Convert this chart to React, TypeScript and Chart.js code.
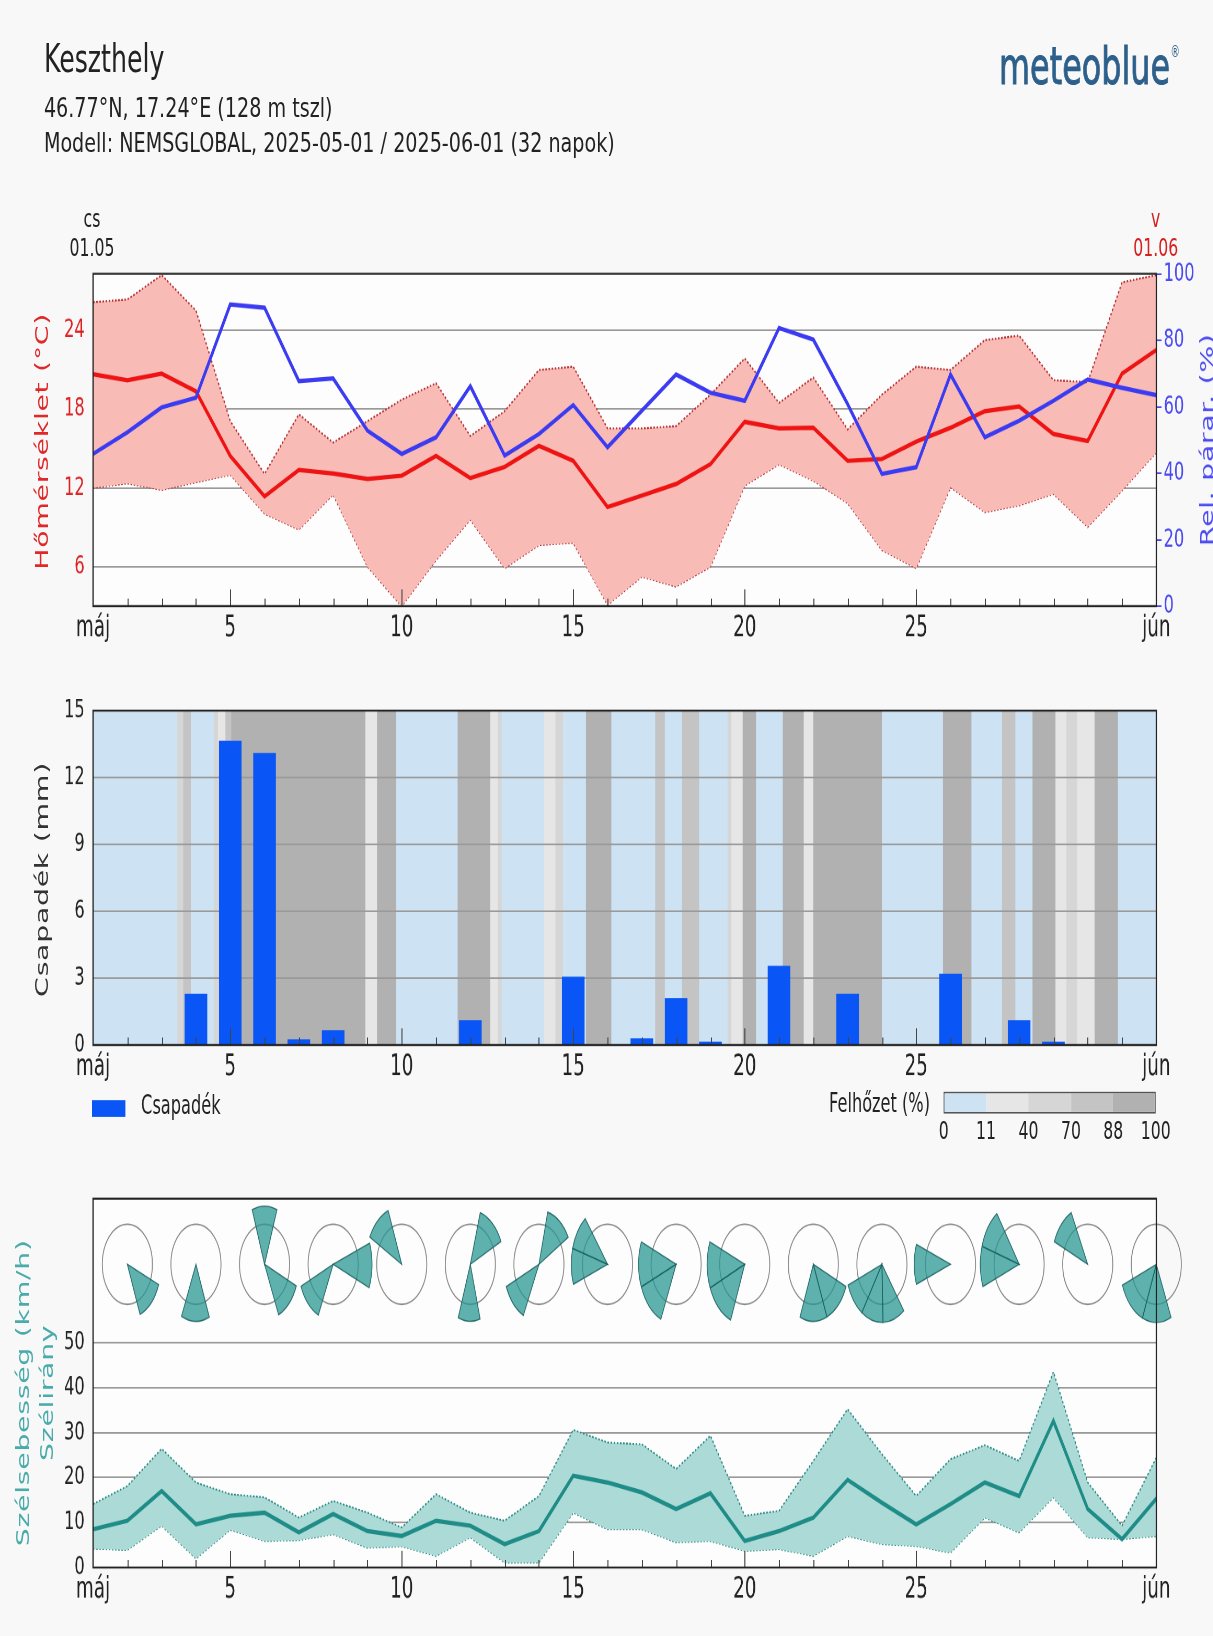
import React, { useEffect, useRef } from 'react';
import { Chart, registerables } from 'chart.js';

Chart.register(...registerables);

const K = 1.045; // uniform scale of the layout
const S = 1.6; // extra vertical stretch of the whole figure
const PAGE_W = 1213;
const PAGE_H = 1636;
const W = PAGE_W / K; // local layout width
const PLOT_L = 89;
const PLOT_R = 1106;
const FONT = "'DejaVu Sans', 'Noto Sans', sans-serif";

// ---------------- data ----------------
const dayIdx = [0, 1, 2, 3, 4, 5, 6, 7, 8, 9, 10, 11, 12, 13, 14, 15, 16, 17, 18, 19, 20, 21, 22, 23, 24, 25, 26, 27, 28, 29, 30, 31];
const xTickPos = [0, 4, 9, 14, 19, 24, 31];
const xTickLabels = ['máj', '5', '10', '15', '20', '25', 'jún'];

const tempMean = [20.65, 20.2, 20.7, 19.35, 14.44, 11.35, 13.36, 13.1, 12.68, 12.93, 14.44, 12.75, 13.6, 15.2, 14.06, 10.54, 11.42, 12.3, 13.8, 17.03, 16.53, 16.58, 14.06, 14.2, 15.52, 16.58, 17.84, 18.2, 16.1, 15.57, 20.7, 22.5];
const tempMax = [26.14, 26.34, 28.2, 25.5, 17.08, 13.06, 17.6, 15.45, 17.08, 18.72, 19.97, 15.95, 17.84, 20.98, 21.23, 16.53, 16.53, 16.7, 19.1, 21.86, 18.47, 20.4, 16.45, 19.1, 21.23, 20.98, 23.25, 23.6, 20.2, 20.05, 27.65, 28.2];
const tempMin = [12.0, 12.35, 11.85, 12.43, 13.0, 10.04, 8.83, 11.5, 6.0, 3.0, 6.5, 9.58, 5.89, 7.65, 7.82, 3.1, 5.24, 4.49, 6.0, 12.18, 13.8, 12.55, 10.84, 7.27, 5.89, 12.05, 10.16, 10.67, 11.55, 9.03, 11.8, 14.7];
const humidity = [45.8, 52.3, 59.8, 62.7, 90.8, 89.8, 67.7, 68.5, 52.8, 45.8, 50.8, 66.2, 45.3, 51.8, 60.5, 47.8, 58.8, 69.7, 64.2, 61.8, 83.7, 80.2, 60.8, 39.8, 41.8, 69.7, 50.8, 55.8, 61.8, 68.2, 65.7, 63.5];
const tempTicks = [6, 12, 18, 24];
const humTicks = [0, 20, 40, 60, 80, 100];

const precip = [0, 0, 0, 2.3, 13.65, 13.1, 0.25, 0.67, 0, 0, 0, 1.12, 0, 0, 3.07, 0, 0.3, 2.1, 0.15, 0, 3.55, 0, 2.3, 0, 0, 3.2, 0, 1.12, 0.15, 0, 0, 0];
const precipTicks = [0, 3, 6, 9, 12, 15];

const cloudStart = [0, 2.46, 2.63, 2.85, 3.52, 3.64, 3.86, 4.03, 7.94, 8.28, 8.84, 10.63, 11.58, 11.8, 11.91, 13.14, 13.48, 13.7, 14.37, 15.11, 16.39, 16.67, 17.17, 17.67, 18.5, 18.61, 18.94, 19.33, 20.11, 20.72, 21.0, 23.0, 24.78, 25.61, 26.5, 26.89, 27.39, 28.06, 28.38, 28.69, 29.2, 29.88];
const cloudCover = [5, 60, 80, 5, 60, 25, 80, 95, 20, 95, 5, 95, 25, 60, 5, 25, 60, 5, 95, 5, 80, 5, 80, 5, 60, 25, 90, 10, 95, 30, 95, 5, 95, 5, 80, 5, 95, 25, 60, 20, 95, 5];
const cloudEnd = 31;
const cloudLevels = [11, 40, 70, 88, 100];
const cloudColors = ['#cde2f3', '#e6e6e6', '#d6d6d6', '#c4c4c4', '#b1b1b1'];
const cloudLegendTicks = ['0', '11', '40', '70', '88', '100'];

const windMean = [8.5, 10.4, 17.0, 9.6, 11.5, 12.2, 7.8, 11.9, 8.1, 7.0, 10.4, 9.3, 5.2, 8.1, 20.4, 18.9, 16.7, 13.0, 16.5, 5.9, 8.1, 11.1, 19.5, 14.4, 9.6, 14.1, 18.9, 15.9, 32.6, 13.0, 6.3, 15.3];
const windMax = [14.1, 18.1, 26.4, 18.9, 16.3, 15.6, 11.1, 14.8, 12.2, 8.9, 16.3, 12.2, 10.4, 15.9, 30.6, 27.8, 27.4, 21.9, 29.3, 11.5, 12.6, 23.7, 35.2, 25.2, 15.9, 24.1, 27.2, 23.7, 43.5, 18.9, 9.3, 24.4];
const windMin = [4.2, 3.9, 9.3, 2.0, 8.4, 5.9, 6.1, 7.4, 4.4, 4.7, 2.6, 6.7, 1.1, 1.1, 12.2, 8.5, 8.5, 5.6, 5.9, 3.7, 4.1, 2.6, 7.0, 5.2, 4.8, 3.3, 11.1, 7.8, 15.6, 6.7, 6.3, 7.0];
const windTicks = [0, 10, 20, 30, 40, 50];

// wind roses: day index of each rose, and its wedges [fromDeg, toDeg, relative length]
const roseIdx = [1, 3, 5, 7, 9, 11, 13, 15, 17, 19, 21, 23, 25, 27, 29, 31];
const roseWedges = [
  [[112, 158, 1.35]],
  [[158, 204, 1.42]],
  [[340, 20, 1.45], [113, 156, 1.38]],
  [[205, 247, 1.4], [70, 112, 1.55]],
  [[298, 338, 1.45]],
  [[17, 65, 1.35], [164, 200, 1.42]],
  [[15, 60, 1.35], [206, 247, 1.42]],
  [[250, 322, 1.45]],
  [[204, 292, 1.5]],
  [[202, 292, 1.5]],
  [[113, 202, 1.42]],
  [[143, 249, 1.45]],
  [[250, 290, 1.45]],
  [[249, 325, 1.55]],
  [[293, 333, 1.45]],
  [[156, 249, 1.45]],
];
const roseCenter = 67.4;
const roseRadius = 0.73;

// ---------------- helpers ----------------
const pts = (arr: number[]) => dayIdx.map((d, i) => ({ x: d, y: arr[i] }));
const coverColor = (c: number) => {
  for (let k = 0; k < cloudLevels.length; k++) if (c <= cloudLevels[k]) return cloudColors[k];
  return cloudColors[cloudColors.length - 1];
};

const xAxis = (h: number) => ({
  type: 'linear',
  min: 0,
  max: 31,
  offset: false,
  grid: { display: false, drawTicks: false, offset: false },
  border: { display: false },
  afterBuildTicks: (s: any) => { s.ticks = xTickPos.map((v) => ({ value: v })); },
  afterFit: (s: any) => { s.height = h; },
  ticks: {
    autoSkip: false,
    maxRotation: 0,
    padding: 3,
    color: '#222',
    font: { family: FONT, size: 17.5 },
    callback: (v: number) => xTickLabels[xTickPos.indexOf(v)],
  },
});

const yAxis = (min: number, max: number, ticks: number[], color: string) => ({
  type: 'linear',
  position: 'left',
  min,
  max,
  afterBuildTicks: (s: any) => { s.ticks = ticks.map((v) => ({ value: v })); },
  afterFit: (s: any) => { s.width = PLOT_L; },
  grid: { color: '#9a9a9a', lineWidth: 1, drawTicks: false },
  border: { display: false },
  ticks: { color, padding: 8, font: { family: FONT, size: 15.5 } },
});

const plotBg = {
  id: 'plotBg',
  beforeDraw(chart: any) {
    const { ctx, chartArea: a } = chart;
    ctx.save();
    ctx.fillStyle = '#fdfdfd';
    ctx.fillRect(a.left, a.top, a.right - a.left, a.bottom - a.top);
    ctx.restore();
  },
};

const cloudPlugin = {
  id: 'clouds',
  beforeDraw(chart: any) {
    const { ctx, chartArea: a, scales } = chart;
    const x = scales.x;
    ctx.save();
    for (let i = 0; i < cloudStart.length; i++) {
      const s = cloudStart[i];
      const e = i + 1 < cloudStart.length ? cloudStart[i + 1] : cloudEnd;
      const x0 = x.getPixelForValue(s);
      const x1 = x.getPixelForValue(e);
      ctx.fillStyle = coverColor(cloudCover[i]);
      ctx.fillRect(x0, a.top, x1 - x0 + 0.4, a.bottom - a.top);
    }
    ctx.restore();
  },
};

const framePlugin = {
  id: 'frame',
  afterDatasetsDraw(chart: any) {
    const { ctx, chartArea: a, scales } = chart;
    const x = scales.x;
    ctx.save();
    ctx.strokeStyle = '#444';
    ctx.lineWidth = 1;
    for (let d = 1; d < 31; d++) {
      const px = Math.round(x.getPixelForValue(d)) + 0.5;
      const len = xTickPos.includes(d) ? 10 : 4.5;
      ctx.beginPath();
      ctx.moveTo(px, a.bottom);
      ctx.lineTo(px, a.bottom - len);
      ctx.stroke();
    }
    ctx.strokeStyle = '#222';
    ctx.lineWidth = 1.2;
    ctx.strokeRect(a.left, a.top, a.right - a.left, a.bottom - a.top);
    ctx.restore();
  },
};

const rosePlugin = {
  id: 'roses',
  afterDatasetsDraw(chart: any) {
    const { ctx, scales } = chart;
    const x = scales.x;
    const y = scales.y;
    const cy = y.getPixelForValue(roseCenter);
    const R = x.getPixelForValue(roseRadius) - x.getPixelForValue(0);
    ctx.save();
    roseIdx.forEach((d, k) => {
      const cx = x.getPixelForValue(d);
      ctx.beginPath();
      ctx.arc(cx, cy, R, 0, Math.PI * 2);
      ctx.strokeStyle = '#8a8a8a';
      ctx.lineWidth = 0.9;
      ctx.stroke();
      roseWedges[k].forEach(([a0, a1, r]) => {
        const end = a1 < a0 ? a1 + 360 : a1;
        const n = Math.max(1, Math.round((end - a0) / 40));
        const step = (end - a0) / n;
        for (let j = 0; j < n; j++) {
          const s0 = ((a0 + j * step - 90) * Math.PI) / 180;
          const s1 = ((a0 + (j + 1) * step - 90) * Math.PI) / 180;
          ctx.beginPath();
          ctx.moveTo(cx, cy);
          ctx.arc(cx, cy, r * R, s0, s1);
          ctx.closePath();
          ctx.fillStyle = 'rgba(38,150,145,0.74)';
          ctx.fill();
          ctx.strokeStyle = 'rgba(25,95,95,0.85)';
          ctx.lineWidth = 0.8;
          ctx.stroke();
        }
      });
    });
    ctx.restore();
  },
};

const baseOpts = (padTop: number, padRight: number) => ({
  animation: false,
  responsive: true,
  maintainAspectRatio: false,
  devicePixelRatio: 2,
  layout: { padding: { top: padTop, right: padRight, left: 0, bottom: 0 } },
  plugins: { legend: { display: false }, tooltip: { enabled: false } },
  elements: { point: { radius: 0 }, line: { tension: 0 } },
});

const makeTemp = () => ({
  type: 'line',
  data: {
    datasets: [
      { data: pts(humidity), yAxisID: 'y2', borderColor: '#3b3bf2', borderWidth: 2.6, fill: false, order: 0 },
      { data: pts(tempMean), yAxisID: 'y', borderColor: '#ee1414', borderWidth: 2.6, fill: false, order: 1 },
      { data: pts(tempMax), yAxisID: 'y', borderColor: '#b83236', borderWidth: 1.2, borderDash: [1.5, 1.5], fill: '+1', backgroundColor: '#f8bbb6', order: 2 },
      { data: pts(tempMin), yAxisID: 'y', borderColor: '#b83236', borderWidth: 1.2, borderDash: [1.5, 1.5], fill: false, order: 3 },
    ],
  },
  options: {
    ...baseOpts(23.75, 0),
    scales: {
      x: xAxis(37.5),
      y: yAxis(3.0, 28.3, tempTicks, '#dd2222'),
      y2: {
        type: 'linear',
        position: 'right',
        min: 0,
        max: 100,
        afterBuildTicks: (s: any) => { s.ticks = humTicks.map((v) => ({ value: v })); },
        afterFit: (s: any) => { s.width = W - PLOT_R; },
        grid: { drawOnChartArea: false, drawTicks: true, tickLength: 5, color: '#4a4af0' },
        border: { display: false },
        ticks: { color: '#4a4af0', padding: 2, font: { family: FONT, size: 15.5 } },
      },
    },
  },
  plugins: [plotBg, framePlugin],
});

const makePrecip = () => ({
  type: 'bar',
  data: {
    datasets: [
      { data: pts(precip), backgroundColor: '#0a55f6', barPercentage: 0.66, categoryPercentage: 1 },
    ],
  },
  options: {
    ...baseOpts(25, W - PLOT_R),
    scales: {
      x: xAxis(35),
      y: yAxis(0, 15, precipTicks, '#222'),
    },
  },
  plugins: [cloudPlugin, framePlugin],
});

const makeWind = () => ({
  type: 'line',
  data: {
    datasets: [
      { data: pts(windMean), borderColor: '#1f8c87', borderWidth: 2.6, fill: false, order: 0 },
      { data: pts(windMax), borderColor: '#2d8a85', borderWidth: 1.1, borderDash: [1.5, 1.5], fill: '+1', backgroundColor: '#acdbd7', order: 1 },
      { data: pts(windMin), borderColor: '#2d8a85', borderWidth: 1.1, borderDash: [1.5, 1.5], fill: false, order: 2 },
    ],
  },
  options: {
    ...baseOpts(26.9, W - PLOT_R),
    scales: {
      x: xAxis(42.5),
      y: yAxis(0, 82, windTicks, '#222'),
    },
  },
  plugins: [plotBg, rosePlugin, framePlugin],
});

function Panel({ top, height, make }: { top: number; height: number; make: () => any }) {
  const ref = useRef<HTMLCanvasElement>(null);
  useEffect(() => {
    const chart = new Chart(ref.current as HTMLCanvasElement, make());
    return () => chart.destroy();
  }, []);
  return (
    <div style={{ position: 'absolute', left: 0, top, width: W, height }}>
      <canvas ref={ref} />
    </div>
  );
}

const Txt = ({ x, y, s, color = '#222', align = 'left', sx = 1, stroke = 0, children }: any) => {
  const tx = align === 'center' ? 'translateX(-50%)' : align === 'right' ? 'translateX(-100%)' : '';
  const origin = align === 'center' ? '50% 0' : align === 'right' ? '100% 0' : '0 0';
  return (
    <div
      style={{
        position: 'absolute', left: x, top: y, fontSize: s, lineHeight: 1, color, whiteSpace: 'nowrap',
        transform: `${tx} scaleX(${sx})`, transformOrigin: origin,
        WebkitTextStroke: stroke ? `${stroke}px ${color}` : undefined,
      }}
    >
      {children}
    </div>
  );
};

const VTxt = ({ cx, cy, s, color, children }: any) => (
  <div
    style={{
      position: 'absolute', left: cx, top: cy, fontSize: s, lineHeight: 1, color, whiteSpace: 'nowrap',
      letterSpacing: 0.4, transform: 'translate(-50%,-50%) rotate(-90deg)',
    }}
  >
    {children}
  </div>
);

export default function App() {
  const barX0 = 903;
  const barW = 203;
  return (
    <div style={{ position: 'absolute', left: 0, top: 0, width: PAGE_W, height: PAGE_H, background: '#f8f8f8', overflow: 'hidden' }}>
      <div
        style={{
          position: 'absolute', left: 0, top: 0, width: W, height: PAGE_H / (K * S),
          transform: `scale(${K}, ${K * S})`, transformOrigin: '0 0', fontFamily: FONT,
        }}
      >
        <Txt x={42} y={24.3} s={23} sx={1.05}>Keszthely</Txt>
        <Txt x={42} y={56.5} s={16} sx={1.145}>46.77°N, 17.24°E (128 m tszl)</Txt>
        <Txt x={42} y={77.7} s={16} sx={1.145}>Modell: NEMSGLOBAL, 2025-05-01 / 2025-06-01 (32 napok)</Txt>
        <Txt x={956} y={24.6} s={30.5} color="#2d5f8b" stroke={0.6}>meteoblue</Txt>
        <Txt x={1120} y={27} s={9} color="#2d5f8b">®</Txt>

        <Txt x={88} y={123.6} s={15} align="center">cs</Txt>
        <Txt x={88} y={141} s={15} align="center">01.05</Txt>
        <Txt x={1106} y={123.6} s={15} align="center" color="#d42020">v</Txt>
        <Txt x={1106} y={141} s={15} align="center" color="#d42020">01.06</Txt>

        <Panel top={140} height={260} make={makeTemp} />
        <Panel top={400} height={260} make={makePrecip} />
        <Panel top={690} height={290} make={makeWind} />

        <VTxt cx={40} cy={263.75} s={17} color="#e02828">Hőmérséklet (°C)</VTxt>
        <VTxt cx={1155} cy={262.5} s={17} color="#4a4af0">Rel. párar. (%)</VTxt>
        <VTxt cx={40} cy={526} s={17} color="#333">Csapadék (mm)</VTxt>
        <VTxt cx={22} cy={832.5} s={17} color="#4aabab">Szélsebesség (km/h)</VTxt>
        <VTxt cx={45} cy={833} s={17} color="#4aabab">Szélirány</VTxt>

        <div style={{ position: 'absolute', left: 88, top: 657.5, width: 32, height: 10, background: '#0a55f6' }} />
        <Txt x={135} y={654.4} s={15.5}>Csapadék</Txt>
        <Txt x={890} y={653.1} s={15.5} align="right">Felhőzet (%)</Txt>
        <div
          style={{
            position: 'absolute', left: barX0, top: 653.1, width: barW, height: 13.1, display: 'flex',
            border: '1px solid #555', boxSizing: 'border-box',
          }}
        >
          {cloudColors.map((c) => (
            <div key={c} style={{ flex: 1, background: c }} />
          ))}
        </div>
        {cloudLegendTicks.map((t, i) => (
          <Txt key={t} x={barX0 + (barW * i) / (cloudLegendTicks.length - 1)} y={668.6} s={15} align="center">
            {t}
          </Txt>
        ))}
      </div>
    </div>
  );
}
